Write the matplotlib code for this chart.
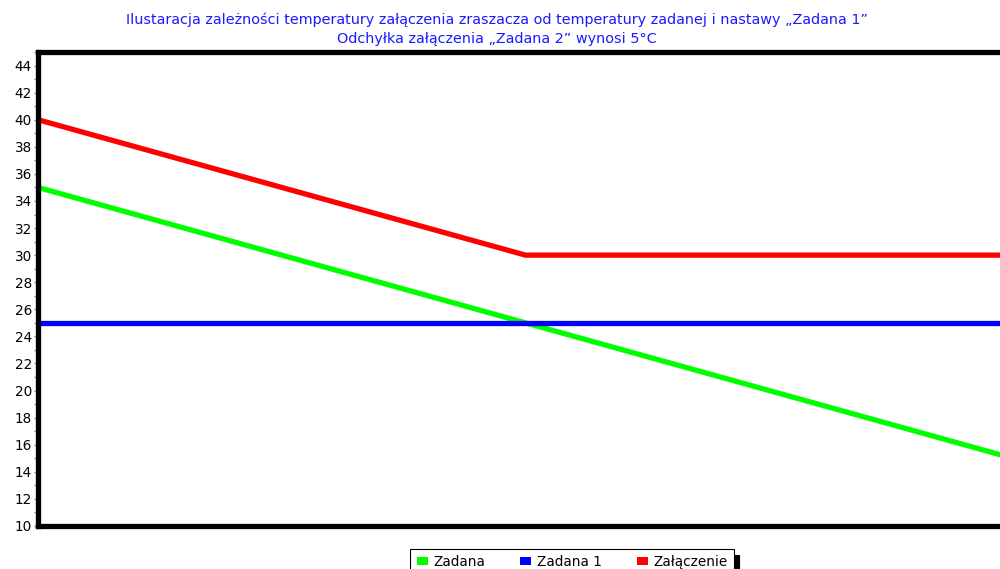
import matplotlib
matplotlib.use("Agg")
import matplotlib.pyplot as plt
from matplotlib.patches import Patch
from matplotlib.ticker import MultipleLocator

plt.rcParams["font.family"] = ["DejaVu Sans"]

# dane: punkty załamania przebiegów
x = [0, 10, 20]
zadana = [35, 25, 15]
zadana1 = [25, 25, 25]
zalaczenie = [40, 30, 30]
series_names = ["Zadana", "Zadana 1", "Załączenie"]
series_colors = ["#00ff00", "#0000ff", "#ff0000"]
yticks = list(range(10, 45, 2))

fig = plt.figure(figsize=(10, 5.69), dpi=100)
ax = fig.add_axes([0.038, 0.0756, 0.975, 0.833])

for ys, c in zip([zadana, zadana1, zalaczenie], series_colors):
    ax.plot(x, ys, color=c, lw=3.8, solid_capstyle="butt", clip_on=False)

ax.set_xlim(0, 20)
ax.set_ylim(10, 45)
ax.set_yticks(yticks)
ax.yaxis.set_minor_locator(MultipleLocator(1))
ax.set_xticks([])
ax.tick_params(axis="y", which="both", direction="out", color="#888888",
               length=3, width=1, labelsize=9.8, pad=1.5)
for s in ["left", "top", "bottom"]:
    ax.spines[s].set_linewidth(3.8)
    ax.spines[s].set_color("black")
ax.spines["right"].set_visible(False)

fig.text(0.497, 0.966,
         "Ilustaracja zależności temperatury załączenia zraszacza od temperatury zadanej i nastawy „Zadana 1”",
         ha="center", va="center", color="#1a1aff", fontsize=10.4)
fig.text(0.497, 0.932, "Odchyłka załączenia „Zadana 2” wynosi 5°C",
         ha="center", va="center", color="#1a1aff", fontsize=10.4)

handles = [Patch(facecolor=c, edgecolor="none") for c in series_colors]
leg = fig.legend(handles, series_names, loc="upper center", ncol=3,
                 bbox_to_anchor=(0.572, 0.035), borderaxespad=0,
                 frameon=True, fancybox=False,
                 fontsize=9.8, handlelength=0.8, handleheight=0.5,
                 handletextpad=0.4, columnspacing=2.6, borderpad=0.45,
                 shadow={"ox": 4, "oy": -4, "facecolor": "black",
                         "edgecolor": "black", "alpha": 1})
leg.get_frame().set_edgecolor("black")
leg.get_frame().set_linewidth(0.8)

fig.savefig("out.png", dpi=100)
